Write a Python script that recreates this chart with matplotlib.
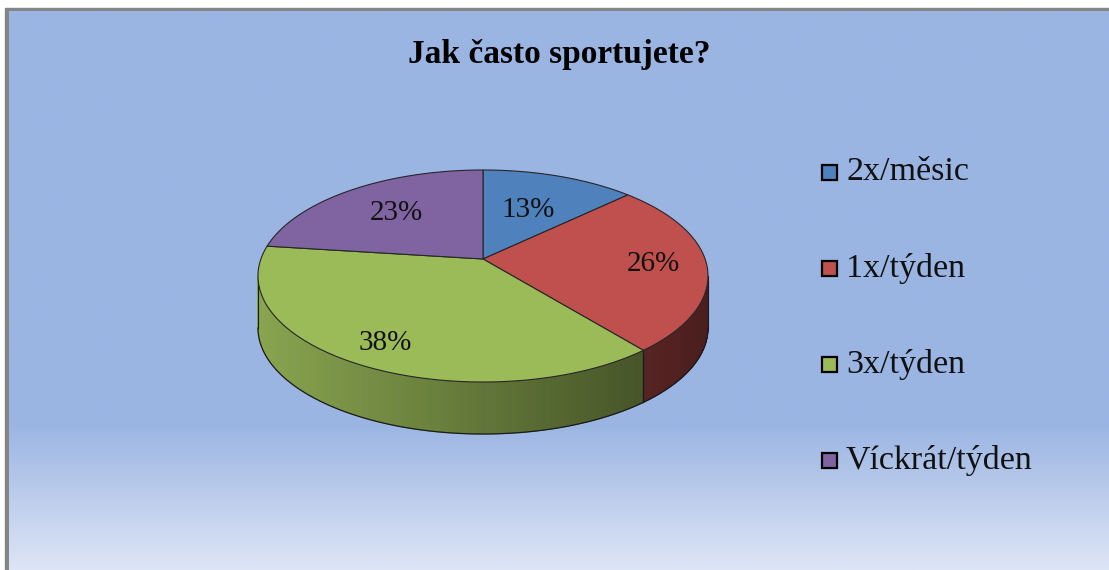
import numpy as np
import matplotlib.pyplot as plt
from matplotlib.patches import Polygon, Rectangle
from matplotlib.colors import to_rgb

# data
kategorie = ["2x/měsic", "1x/týden", "3x/týden", "Víckrát/týden"]
procenta = [13, 26, 38, 23]
barvy = ["#4F81BD", "#C0504D", "#9BBB59", "#8064A2"]
titulek = "Jak často sportujete?"

plt.rcParams['font.family'] = ['Liberation Serif', 'DejaVu Serif']

W, H = 1109, 570
fig = plt.figure(figsize=(W / 100, H / 100), dpi=100)
ax = fig.add_axes([0, 0, 1, 1])
ax.set_xlim(0, W)
ax.set_ylim(H, 0)
ax.axis('off')

# pozadi - bila, sedy ramecek, modry gradient
ax.add_patch(Rectangle((0, 0), W, H, color='white', zorder=0))
ax.add_patch(Rectangle((5, 8), W, H, color='#858585', zorder=0.5))
top = np.array(to_rgb('#9BB5E3'))
bot = np.array(to_rgb('#DDE5F5'))
yy = np.linspace(11, H, 300)
k = np.clip((yy - 425) / (H - 425), 0, 1)
grad = (top[None, :] * (1 - k[:, None]) + bot[None, :] * k[:, None])[:, None, :]
ax.imshow(grad, extent=[9, W, H, 11], aspect='auto', zorder=1)

# geometrie kolace
cx, cy, rx, ry = 483, 276, 225, 106
vx, vy = 483, 259
hloubka = 52


def ray_param(theta):
    # prusecik paprsku z vrcholu s elipsou -> parametricky uhel
    th = np.radians(theta)
    dx, dy = np.cos(th) * rx, -np.sin(th) * ry
    ox, oy = (vx - cx) / rx, (vy - cy) / ry
    a = (dx / rx) ** 2 + (dy / ry) ** 2
    b = 2 * (ox * dx / rx + oy * dy / ry)
    c = ox ** 2 + oy ** 2 - 1
    s = (-b + np.sqrt(b * b - 4 * a * c)) / (2 * a)
    px, py = vx + dx * s, vy + dy * s
    return np.degrees(np.arctan2(-(py - cy) / ry, (px - cx) / rx))


def pt(t):
    t = np.radians(t)
    return cx + rx * np.cos(t), cy - ry * np.sin(t)


cum = np.concatenate([[0], np.cumsum(procenta)]) / sum(procenta)
uhly = 90 - 360 * cum
par = [ray_param(u) for u in uhly]
# rozbaleni, aby uhly klesaly
par_u = [par[0]]
for p in par[1:]:
    while p > par_u[-1]:
        p -= 360
    par_u.append(p)

# boky
for i in range(len(procenta)):
    t0, t1 = par_u[i], par_u[i + 1]
    for shift in (0, -360, 360):
        lo, hi = max(t1, -180 + shift), min(t0, 0 + shift)
        if hi <= lo:
            continue
        ts = np.linspace(hi, lo, 120)
        base = np.array(to_rgb(barvy[i]))
        for j in range(len(ts) - 1):
            x0, y0 = pt(ts[j])
            x1, y1 = pt(ts[j + 1])
            f = 0.88 - 0.5 * ((x0 + x1) / 2 - (cx - rx)) / (2 * rx)
            ax.add_patch(Polygon([(x0, y0), (x1, y1), (x1, y1 + hloubka), (x0, y0 + hloubka)],
                                 closed=True, facecolor=base * f, edgecolor=base * f,
                                 lw=0.6, zorder=2))
        # hrany
        xs, ys = zip(*[pt(t) for t in ts])
        ax.plot(xs, np.array(ys) + hloubka, color='#1a1a1a', lw=0.9, zorder=3)
        for t in (hi, lo):
            x, y = pt(t)
            ax.plot([x, x], [y, y + hloubka], color='#1a1a1a', lw=0.8, zorder=3)

# vrchni plocha
for i in range(len(procenta)):
    ts = np.linspace(par_u[i], par_u[i + 1], 150)
    verts = [(vx, vy)] + [pt(t) for t in ts]
    ax.add_patch(Polygon(verts, closed=True, facecolor=barvy[i], edgecolor='#262626',
                         lw=0.8, zorder=4))

# popisky procent
frakce = [0.5, 0.76, 0.9, 0.58]
for i, p in enumerate(procenta):
    mid = np.radians((uhly[i] + uhly[i + 1]) / 2)
    lx = vx + np.cos(mid) * rx * frakce[i]
    ly = vy - np.sin(mid) * ry * frakce[i]
    ax.text(lx, ly, f"{p}%", fontsize=21, ha='center', va='center', color='#111111', zorder=5)

# titulek
ax.text(559, 54, titulek, fontsize=24, fontweight='bold', ha='center', va='center', zorder=5)

# legenda
leg_y0, leg_dy = 172, 96
for i, kat in enumerate(kategorie):
    y = leg_y0 + i * leg_dy
    ax.add_patch(Rectangle((822, y - 7), 15, 15, facecolor=barvy[i], edgecolor='black',
                           lw=1.6, zorder=5))
    ax.text(846, y, kat, fontsize=24.5, ha='left', va='center', color='#111111', zorder=5)

fig.savefig('out.png', dpi=100)
